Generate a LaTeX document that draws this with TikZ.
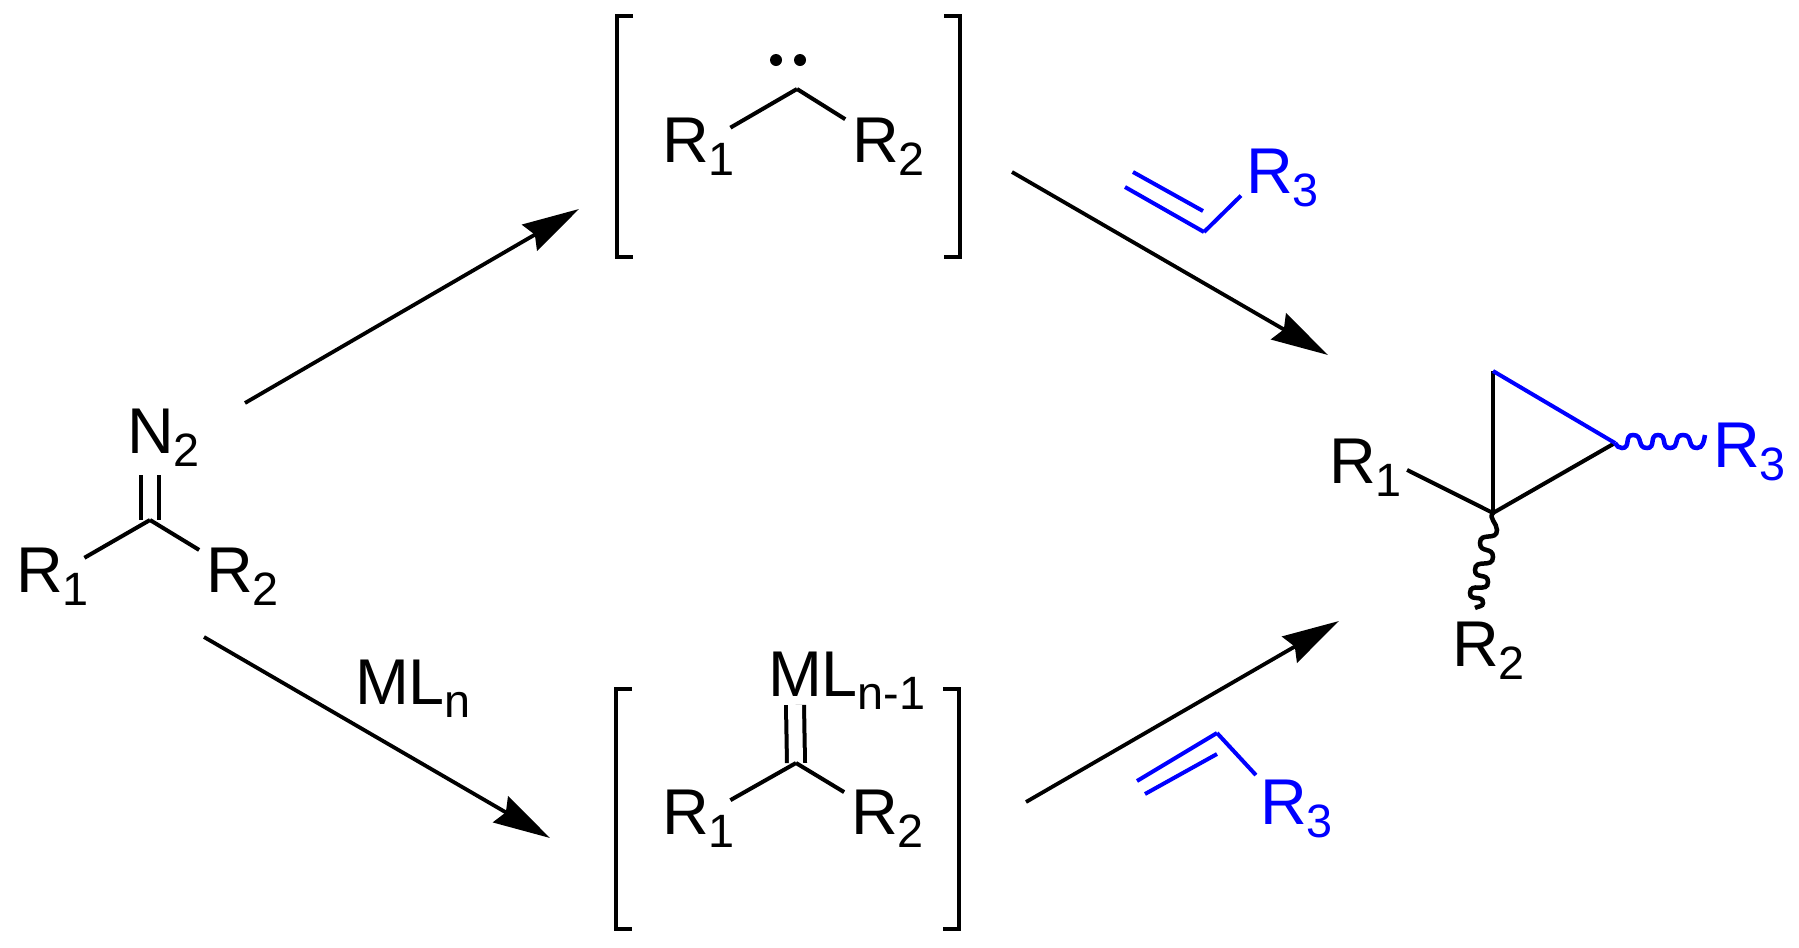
\documentclass[tikz,border=0pt]{standalone}
\usepackage{fontspec}
\setmainfont{Liberation Sans}
\usetikzlibrary{arrows.meta}

\newcommand{\chemsub}[1]{\raisebox{-0.13cm}{\fontsize{13.3}{13}\selectfont #1}}
\tikzset{
	chem/.style = {inner sep = 0, outer sep = 0, anchor = base west, font = \fontsize{18.4}{20}\selectfont},
	bond/.style = {line width = 0.04cm},
	bondlong/.style = {bond, shorten > = -0.05cm},
	bondshort/.style = {bond, shorten > = 0.08cm},
	squiggle/.style = {line width = 0.045cm},
	bracket/.style = {line width = 0.045cm},
	reaction/.style = {line width = 0.038cm, -{Stealth[length = 0.57cm, width = 0.30cm, inset = 0.06cm]}},
	lobe/.style = {out = 0, in = 180, looseness = 1.4},
	lobedown/.style = {out = -90, in = 90, looseness = 1.4},
	dblbond/.style = {line width = 0.04cm, double, double distance = 0.14cm}
}

\begin{document}
\begin{tikzpicture}[x = 0.01cm, y = -0.01cm]
	\useasboundingbox (0,0) rectangle (1799,948);

	% diazo compound
	\coordinate (diazoC) at (150,520);
	\node [chem] (diazoN) at (127,453) {N\chemsub{2}};
	\node [chem] (diazoRa) at (16,592) {R\chemsub{1}};
	\node [chem] (diazoRb) at (206,592) {R\chemsub{2}};
	\coordinate (diazoTop) at (150,475);
	\draw [dblbond] (diazoC) -- (diazoTop);
	\draw [bondlong] (diazoC) -- (diazoRa);
	\draw [bondshort] (diazoC) -- (diazoRb);

	% carbene
	\coordinate (carbC) at (797,89);
	\node [chem] (carbRa) at (662,162) {R\chemsub{1}};
	\node [chem] (carbRb) at (852,162) {R\chemsub{2}};
	\draw [bondlong] (carbC) -- (carbRa);
	\draw [bondshort] (carbC) -- (carbRb);
	\fill (776,60) circle (6);
	\fill (800,60) circle (6);
	\draw [bracket] (633,16) -- (617,16) -- (617,257) -- (633,257);
	\draw [bracket] (944,16) -- (960,16) -- (960,257) -- (944,257);

	% metal carbene
	\coordinate (metalC) at (796,763);
	\node [chem] (metalL) at (768,696) {ML\chemsub{n-1}};
	\node [chem] (metalRa) at (662,834) {R\chemsub{1}};
	\node [chem] (metalRb) at (851,834) {R\chemsub{2}};
	\coordinate (metalTop) at (795,705);
	\draw [dblbond] (metalC) -- (metalTop);
	\draw [bondlong] (metalC) -- (metalRa);
	\draw [bondshort] (metalC) -- (metalRb);
	\draw [bracket] (632,689) -- (616,689) -- (616,929) -- (632,929);
	\draw [bracket] (943,689) -- (959,689) -- (959,929) -- (943,929);

	% alkene above
	\begin{scope}[blue]
		\node [chem] (topR) at (1246,193) {R\chemsub{3}};
		\coordinate (topV) at (1204,232);
		\coordinate (topA) at (1125,187);
		\coordinate (topB) at (1133,172);
		\coordinate (topD) at (1203,211);
		\draw [bond] (topA) -- (topV);
		\draw [bond] (topB) -- (topD);
		\draw [bond, shorten > = 0.07cm] (topV) -- (topR.200);
	\end{scope}

	% alkene below
	\begin{scope}[blue]
		\node [chem] (lowR) at (1260,824) {R\chemsub{3}};
		\coordinate (lowV) at (1217,733);
		\coordinate (lowA) at (1137,781);
		\coordinate (lowB) at (1145,794);
		\coordinate (lowD) at (1217,754);
		\draw [bond] (lowA) -- (lowV);
		\draw [bond] (lowB) -- (lowD);
		\draw [bond, shorten > = 0.06cm] (lowV) -- (lowR.north west);
	\end{scope}

	% cyclopropane
	\coordinate (ringT) at (1493,371);
	\coordinate (ringR) at (1615,443);
	\coordinate (ringB) at (1493,513);
	\coordinate (waveR) at (1705,435);
	\coordinate (waveB) at (1475,608);
	\node [chem] (ringRa) at (1329,483) {R\chemsub{1}};
	\node [chem] (ringRb) at (1452,666) {R\chemsub{2}};
	\node [chem, blue] (ringRc) at (1713,467) {R\chemsub{3}};
	\draw [bond] (ringT) -- (ringB);
	\draw [bond] (ringB) -- (ringR);
	\draw [bond, blue] (ringT) -- (ringR);
	\draw [bond, shorten > = 0.06cm] (ringB) -- (ringRa.east);

	\draw [squiggle] (ringB) to [out = -135, in = 90] (1497,530)
		to [lobedown] (1480,543) to [lobedown] (1493,557) to [lobedown] (1475,570)
		to [lobedown] (1488,582) to [lobedown] (1470,593) to [lobedown] (1483,603)
		to [out = -90, in = 30] (waveB);
	\draw [squiggle, blue] (ringR) to [out = -60, in = 180] (1622,448)
		to [lobe] (1633,435) to [lobe] (1647,448) to [lobe] (1658,435) to [lobe] (1670,448)
		to [lobe] (1683,435) to [lobe] (1697,448) to [out = 0, in = -100] (waveR);

	% arrows
	\coordinate (upS) at (245,403);
	\coordinate (upE) at (579,209);
	\coordinate (downS) at (204,637);
	\coordinate (downE) at (550,838);
	\coordinate (carbS) at (1012,172);
	\coordinate (carbE) at (1328,355);
	\coordinate (metalS) at (1026,802);
	\coordinate (metalE) at (1339,621);
	\draw [reaction] (upS) -- (upE);
	\draw [reaction] (downS) -- (downE);
	\draw [reaction] (carbS) -- (carbE);
	\draw [reaction] (metalS) -- (metalE);
	\node [chem] (catalyst) at (355,704) {ML\chemsub{n}};
\end{tikzpicture}
\end{document}
